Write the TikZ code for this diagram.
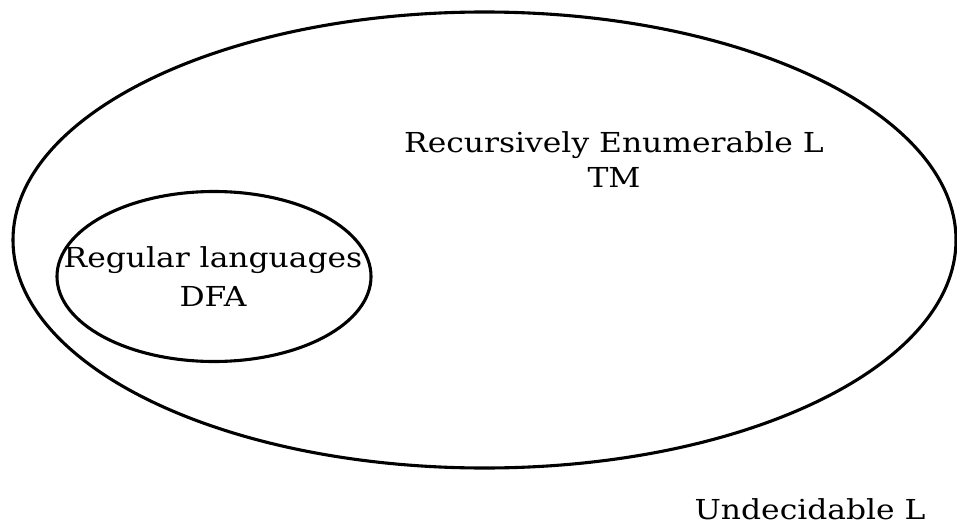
\documentclass[tikz,border=0pt]{standalone}
\usepackage{fontspec}
\setmainfont[FakeStretch=1.14]{DejaVu Serif}
\begin{document}
\begin{tikzpicture}[x=1pt,y=-1pt,
  ring/.style={draw=black,line width=3.1pt},
  lbl/.style={font=\fontsize{27.5}{33}\selectfont,inner sep=0pt,anchor=base}]
\useasboundingbox (0,0) rectangle (957,524);
\draw[ring] (484.5,240) ellipse [x radius=471.5, y radius=228];
\draw[ring] (214,276.5) ellipse [x radius=157, y radius=85];
\node[lbl] (re) at (614,152) {Recursively Enumerable L};
\node[lbl] (tm) at (614,187) {TM};
\node[lbl] (reg) at (213,267) {Regular languages};
\node[lbl] (dfa) at (213,306) {DFA};
\node[lbl] (und) at (810,519) {Undecidable L};
\end{tikzpicture}
\end{document}
